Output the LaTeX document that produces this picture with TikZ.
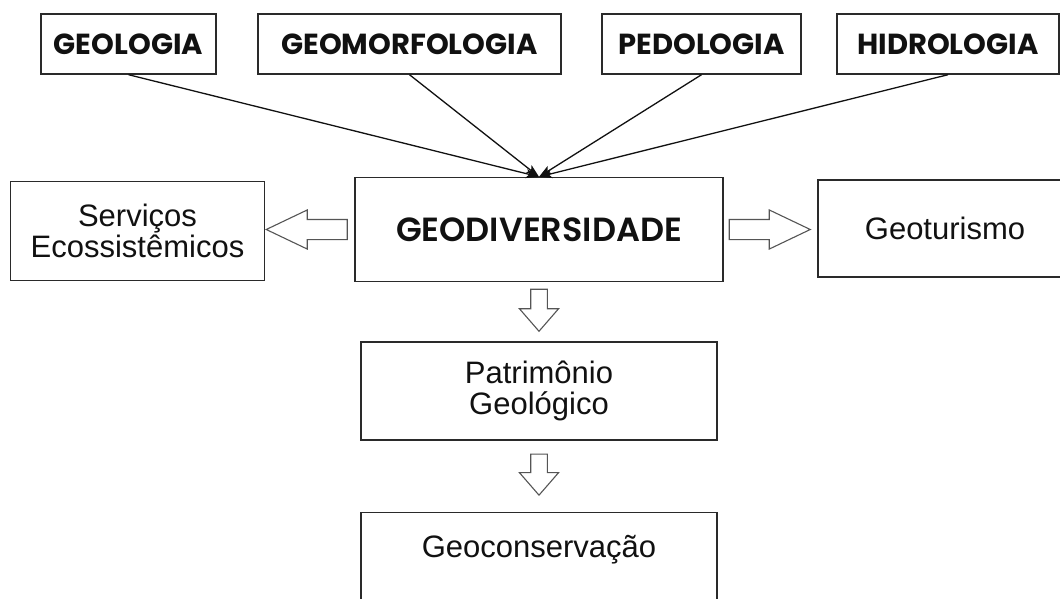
\documentclass[tikz,border=0pt]{standalone}
\usepackage{fontspec}
\setmainfont{Liberation Sans}
\newfontfamily\geofont{Poppins}
\newfontfamily\geosemi{Poppins SemiBold}
\usetikzlibrary{arrows.meta,positioning,calc,shapes.arrows}
\definecolor{Ink}{HTML}{111111}
\definecolor{Frame}{HTML}{2A2A2A}
\definecolor{HollowLine}{HTML}{555555}

\begin{document}
\begin{tikzpicture}[x=1pt,y=-1pt,
  box/.style={draw=Frame,line width=1.4pt,inner sep=0pt,align=center,text=Ink},
  topbox/.style={box,minimum height=60pt,font=\geofont\bfseries\fontsize{29}{32}\selectfont},
  txtbox/.style={box,font=\fontsize{31}{31}\selectfont},
  feed/.style={-{Stealth[length=13pt,width=9pt,inset=3pt]},line width=1.3pt,color=Ink},
  hollow/.style={single arrow,draw=HollowLine,line width=1.1pt,fill=white,anchor=tail},
  sidearr/.style={hollow,inner xsep=0pt,inner ysep=9.5pt,single arrow head extend=9.5pt,single arrow tip angle=51,minimum height=81pt},
  downarr/.style={hollow,inner ysep=0pt,inner xsep=7.75pt,single arrow head extend=11.25pt,single arrow tip angle=82,minimum height=42pt,shape border rotate=270}]
\useasboundingbox[fill=white] (0,0) rectangle (1060,598);
% source disciplines
\node[topbox,minimum width=175pt] (geol) at (128.5,44) {GEOLOGIA};
\node[topbox,minimum width=303pt] (geom) at (409.5,44) {GEOMORFOLOGIA};
\node[topbox,minimum width=199pt] (pedo) at (701.5,44) {PEDOLOGIA};
\node[topbox,minimum width=222pt] (hidr) at (948,44) {HIDROLOGIA};
% central concept and neighbours
\node[box,minimum width=368pt,minimum height=104pt,font=\geosemi\fontsize{33.5}{36}\selectfont] (geod) at (539,229.5) {GEODIVERSIDADE};
\node[txtbox,minimum width=254pt,minimum height=99pt] (serv) at (137.5,231) {Serviços\\Ecossistêmicos};
\node[txtbox,minimum width=254pt,minimum height=97pt] (geot) at (945,228.5) {Geoturismo};
\node[txtbox,minimum width=356pt,minimum height=98pt,below=59pt of geod] (patr) {Patrimônio\\Geológico};
\node[txtbox,minimum width=356pt,minimum height=98pt,text depth=30pt,below=71pt of patr] (cons) {Geoconservação};
\draw[feed] (geol.south)--(geod.north);
\draw[feed] (geom.south)--(geod.north);
\draw[feed] (pedo.south)--(geod.north);
\draw[feed] (hidr.south)--(geod.north);
% hollow arrows
\node[sidearr,shape border rotate=180] (toserv) at ($(geod.west)+(-6.5,0)$) {};
\node[sidearr] (togeot) at ($(geod.east)+(5,0)$) {};
\node[downarr] (topatr) at ($(geod.south)+(0,6.5)$) {};
\node[downarr,minimum height=41pt] (tocons) at ($(patr.south)+(0,13)$) {};
\end{tikzpicture}
\end{document}
